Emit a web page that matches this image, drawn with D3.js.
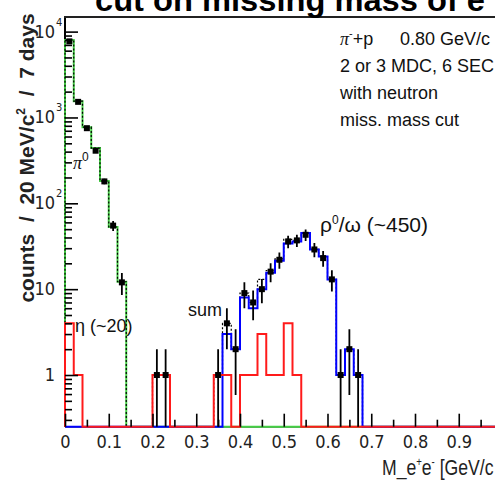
<!DOCTYPE html>
<html lang="en">
<head>
<meta charset="UTF-8">
<title>Dielectron invariant mass</title>
<script src="https://d3js.org/d3.v7.min.js"></script>
<style>
  body { margin: 0; background: #fff; }
  svg { display: block; }
  text { white-space: pre; }
  .tick-label { font-family: "Liberation Sans Narrow", "DejaVu Sans Condensed", Arial, sans-serif; font-size: 18px; fill: #222; }
  .note { font-family: "Liberation Sans", Arial, sans-serif; font-size: 18px; fill: #111; }
  .greek { font-family: "Liberation Serif", "DejaVu Serif", serif; font-style: italic; }
</style>
</head>
<body>
<svg id="chart"></svg>
<script>
const width = 495, height = 481;
const binWidth = 0.02, nBins = 50;

// pi0 simulation (green), lower bin edge + counts
const pi0Low = [0, 0.02, 0.04, 0.06, 0.08, 0.10, 0.12];
const pi0Counts = [8000, 1550, 770, 440, 182, 53, 12.2];

// eta simulation (red)
const etaLow = [0, 0.02, 0.20, 0.22, 0.34, 0.36, 0.40, 0.42, 0.44, 0.46, 0.48, 0.50, 0.52];
const etaCounts = [4, 1, 1, 1, 1, 1, 1, 1, 3, 1, 1, 4, 1];

// rho0/omega simulation (blue)
const rhoLow = [0.36, 0.38, 0.40, 0.42, 0.44, 0.46, 0.48, 0.50, 0.52, 0.54, 0.56, 0.58, 0.60, 0.62, 0.64, 0.66];
const rhoCounts = [3, 2, 8, 6, 10, 15.5, 21.5, 34, 36, 45, 29, 24, 13, 1, 2, 1];

// measured points (bin centre, counts)
const dataCenters = [0.01, 0.03, 0.05, 0.07, 0.09, 0.11, 0.13, 0.21, 0.23,
  0.35, 0.37, 0.39, 0.41, 0.43, 0.45, 0.47, 0.49, 0.51, 0.53, 0.55, 0.57, 0.59, 0.61, 0.63, 0.65, 0.67];
const dataCounts = [7700, 1520, 750, 410, 180, 55, 12, 1, 1,
  1, 4, 2, 9, 7, 10, 16, 22, 36, 37, 43, 29, 23, 13, 1, 2, 1];

const xTickValues = [0, 0.1, 0.2, 0.3, 0.4, 0.5, 0.6, 0.7, 0.8, 0.9];
const xTickLabels = ["0", "0.1", "0.2", "0.3", "0.4", "0.5", "0.6", "0.7", "0.8", "0.9"];
const yTickValues = [1, 10, 100, 1000, 10000];
const yTickBases = ["1", "10", "10", "10", "10"];
const yTickExps = ["", "", "2", "3", "4"];

const plotLeft = 65, plotTop = 17, plotBottom = 426.7;

const svg = d3.select("#chart").attr("width", width).attr("height", height);

const x = d3.scaleLinear().domain([0, 1]).range([plotLeft, 502.5]);
const y = d3.scaleLog().domain([0.25, 14800]).range([plotBottom, plotTop]);

svg.append("defs").append("clipPath").attr("id", "plotClip")
  .append("rect").attr("x", plotLeft - 2).attr("y", plotTop).attr("width", width - plotLeft + 2).attr("height", plotBottom - plotTop + 3);

function toBins(lows, counts) {
  const arr = new Array(nBins).fill(0);
  lows.forEach((lo, i) => { arr[Math.round(lo / binWidth)] = counts[i]; });
  return arr;
}

const pi0Bins = toBins(pi0Low, pi0Counts);
const etaBins = toBins(etaLow, etaCounts);
const rhoBins = toBins(rhoLow, rhoCounts);
const sumBins = pi0Bins.map((v, i) => v + etaBins[i] + rhoBins[i]);

const yOf = v => v > 0 ? y(v) : plotBottom;
const step = d3.line().x(d => x(d[0])).y(d => yOf(d[1])).curve(d3.curveStepAfter);
const histPoints = bins => [[0, 0], ...bins.map((v, i) => [i * binWidth, v]), [1, 0]];

// axis lines first, histograms are drawn over them
svg.append("line").attr("x1", plotLeft).attr("x2", width).attr("y1", plotBottom).attr("y2", plotBottom)
  .attr("stroke", "#000").attr("stroke-width", 1.5);
svg.append("line").attr("x1", plotLeft).attr("x2", plotLeft).attr("y1", plotTop).attr("y2", plotBottom)
  .attr("stroke", "#000").attr("stroke-width", 2);
svg.append("line").attr("x1", plotLeft - 1).attr("x2", width).attr("y1", plotTop).attr("y2", plotTop)
  .attr("stroke", "#222").attr("stroke-width", 2);

const plot = svg.append("g").attr("clip-path", "url(#plotClip)");

plot.append("path").attr("d", step(histPoints(pi0Bins)))
  .attr("fill", "none").attr("stroke", "#44d044").attr("stroke-width", 2);
plot.append("path").attr("d", step(histPoints(sumBins)))
  .attr("fill", "none").attr("stroke", "#000").attr("stroke-width", 1.2).attr("stroke-dasharray", "2,2");
plot.append("path").attr("d", step(histPoints(rhoBins)))
  .attr("fill", "none").attr("stroke", "#0000ff").attr("stroke-width", 2);
plot.append("path").attr("d", step(histPoints(etaBins)))
  .attr("fill", "none").attr("stroke", "#ff1a1a").attr("stroke-width", 2);

// data points with sqrt(N) error bars
const pts = plot.append("g");
dataCenters.forEach((c, i) => {
  const n = dataCounts[i], e = Math.sqrt(n);
  pts.append("line")
    .attr("x1", x(c)).attr("x2", x(c))
    .attr("y1", y(n + e)).attr("y2", yOf(n - e))
    .attr("stroke", "#000").attr("stroke-width", 1.8);
  pts.append("rect")
    .attr("x", x(c) - 3).attr("y", y(n) - 3).attr("width", 6).attr("height", 6)
    .attr("fill", "#000");
});

// x axis ticks (inward)
const xMajor = svg.append("g").attr("transform", `translate(0,${plotBottom})`)
  .call(d3.axisBottom(x).tickValues(xTickValues).tickSizeInner(-13).tickSizeOuter(0).tickPadding(9)
    .tickFormat((d, i) => xTickLabels[i]));
xMajor.select(".domain").remove();
xMajor.selectAll("line").attr("stroke", "#000").attr("stroke-width", 1.6);
xMajor.selectAll("text").attr("class", "tick-label").attr("fill", null);
xMajor.attr("font-size", null).attr("font-family", null);

const xMinor = svg.append("g").attr("transform", `translate(0,${plotBottom})`)
  .call(d3.axisBottom(x).tickValues(xTickValues.map(v => v + 0.05)).tickSizeInner(-7).tickSizeOuter(0).tickFormat(""));
xMinor.select(".domain").remove();
xMinor.selectAll("line").attr("stroke", "#000").attr("stroke-width", 1.6);

// y axis ticks (inward)
const yMinorValues = [];
[0.1, 1, 10, 100, 1000].forEach(dec => {
  for (let k = 2; k <= 9; k++) if (dec * k >= 0.25 && dec * k <= 14800) yMinorValues.push(dec * k);
});
const yMajor = svg.append("g").attr("transform", `translate(${plotLeft},0)`)
  .call(d3.axisRight(y).tickValues(yTickValues).tickSize(13).tickFormat(""));
yMajor.select(".domain").remove();
yMajor.selectAll("line").attr("stroke", "#000").attr("stroke-width", 1.6);
const yMinor = svg.append("g").attr("transform", `translate(${plotLeft},0)`)
  .call(d3.axisRight(y).tickValues(yMinorValues).tickSize(7).tickFormat(""));
yMinor.select(".domain").remove();
yMinor.selectAll("line").attr("stroke", "#000").attr("stroke-width", 1.6);

yTickValues.forEach((v, i) => {
  svg.append("text").attr("class", "tick-label")
    .attr("x", 55).attr("y", y(v) + 6).attr("text-anchor", "end").text(yTickBases[i]);
  if (yTickExps[i]) {
    svg.append("text").attr("class", "tick-label").style("font-size", "11px")
      .attr("x", 56).attr("y", y(v) - 6).text(yTickExps[i]);
  }
});

// title (cut at the top edge)
svg.append("text").attr("x", 95).attr("y", 11)
  .attr("textLength", 390).attr("lengthAdjust", "spacingAndGlyphs")
  .style("font-family", "'Liberation Sans', Arial, sans-serif").style("font-weight", "bold").style("font-size", "31px")
  .attr("fill", "#000").text("cut on missing mass of e");

// y axis title
const yTitle = svg.append("text")
  .attr("transform", "translate(34,158) rotate(-90)").attr("text-anchor", "middle")
  .style("font-family", "'Liberation Sans', Arial, sans-serif").style("font-weight", "bold").style("font-size", "21px")
  .attr("fill", "#222");
yTitle.append("tspan").text("counts  /  20 MeV/c");
yTitle.append("tspan").attr("dy", -9).style("font-size", "12px").text("2");
yTitle.append("tspan").attr("dy", 9).text("  /  7 days");

// x axis title
const xTitle = svg.append("text").attr("transform", "translate(382,475) scale(0.8,1)")
  .style("font-family", "'Liberation Sans', Arial, sans-serif").style("font-size", "22px")
  .attr("fill", "#222");
xTitle.append("tspan").text("M_e");
xTitle.append("tspan").attr("dy", -9).style("font-size", "12px").text("+");
xTitle.append("tspan").attr("dy", 9).text("e");
xTitle.append("tspan").attr("dy", -9).style("font-size", "12px").text("-");
xTitle.append("tspan").attr("dy", 9).text(" [GeV/c");

// annotations
const t1 = svg.append("text").attr("class", "note").attr("x", 340).attr("y", 45);
t1.append("tspan").attr("class", "greek").text("π");
t1.append("tspan").attr("dy", -8).style("font-size", "11px").text("-");
t1.append("tspan").attr("dy", 8).text("+p");
svg.append("text").attr("class", "note").attr("x", 400).attr("y", 45).text("0.80 GeV/c");
svg.append("text").attr("class", "note").attr("x", 340).attr("y", 72).text("2 or 3 MDC, 6 SEC");
svg.append("text").attr("class", "note").attr("x", 340).attr("y", 99).text("with neutron");
svg.append("text").attr("class", "note").attr("x", 340).attr("y", 126).text("miss. mass cut");

const tPi = svg.append("text").attr("class", "note").attr("x", 73).attr("y", 169);
tPi.append("tspan").attr("class", "greek").text("π");
tPi.append("tspan").attr("dy", -8).style("font-size", "12px").text("0");

svg.append("text").attr("class", "note").attr("x", 75).attr("y", 332).text("η (~20)");
svg.append("text").attr("class", "note").attr("x", 188).attr("y", 316).text("sum");

const tRho = svg.append("text").attr("class", "note").style("font-size", "21px").attr("x", 320).attr("y", 232);
tRho.append("tspan").text("ρ");
tRho.append("tspan").attr("dy", -8).style("font-size", "12px").text("0");
tRho.append("tspan").attr("dy", 8).text("/ω (~450)");
</script>
</body>
</html>
